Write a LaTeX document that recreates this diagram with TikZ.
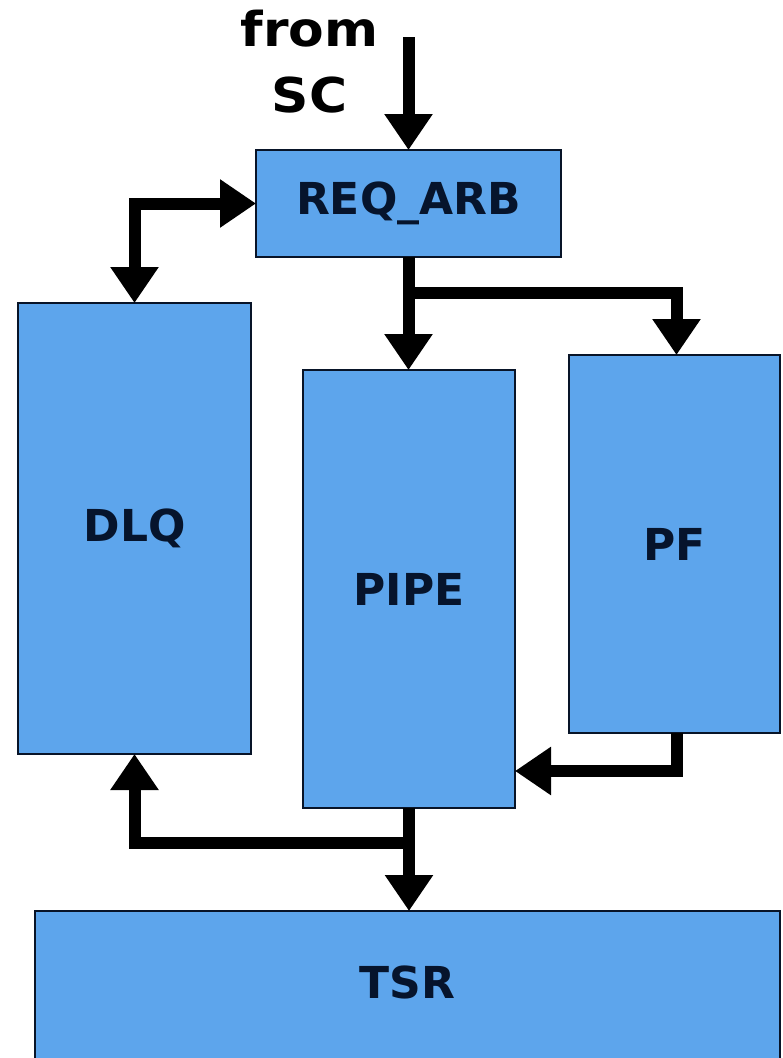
\documentclass[tikz,border=0pt]{standalone}
\usepackage{fontspec}
\setmainfont{DejaVu Sans}
\usetikzlibrary{arrows.meta,calc}
\definecolor{boxblue}{RGB}{93,165,236}
\definecolor{boxline}{RGB}{8,20,40}
\definecolor{boxtext}{RGB}{6,20,44}
\tikzset{
  blk/.style={draw=boxline,line width=2.5pt,fill=boxblue,inner sep=0pt,outer sep=0pt,
    text=boxtext,font=\fontsize{44}{52}\selectfont\bfseries},
  conn/.style={line width=12pt,line join=miter,-{Triangle[width=46pt,length=36pt]}},
  conn2/.style={line width=12pt,line join=miter,{Triangle[width=46pt,length=36pt]}-{Triangle[width=46pt,length=36pt]}},
  wire/.style={line width=12pt,line join=miter}
}
\begin{document}
\begin{tikzpicture}[x=1pt,y=1pt]
\useasboundingbox (0,0) rectangle (783,-1058);
\begin{scope}
\clip (0,0) rectangle (783,-1058);
\node[blk,minimum width=305pt,minimum height=107pt] (req) at (408.5,-203.5) {REQ\_ARB};
\node[blk,minimum width=233pt,minimum height=451pt] (dlq) at (134.5,-528.5) {DLQ};
\node[blk,minimum width=212pt,minimum height=438pt] (pipe) at (409,-589) {PIPE};
\node[blk,minimum width=211pt,minimum height=378pt] (pf) at (674.5,-544) {PF};
\node[blk,minimum width=745pt,minimum height=180pt] (tsr) at (407.5,-1001) {};
\node[text=boxtext,font=\fontsize{44}{52}\selectfont\bfseries] (tsrtext) at (407.5,-982) {TSR};
\end{scope}
\node[align=center,xscale=1.08,font=\fontsize{48}{66}\selectfont\bfseries] (from) at (309.5,-62) {from\\SC};
\coordinate (scin) at (408.5,-37);
\draw[conn] (scin) -- (req.north);
\draw[conn2] (req.west) -| (dlq.north);
\draw[conn] (req.south) -- (req.south |- pipe.north);
\coordinate (br1) at ($(req.south)+(0,-36)$);
\draw[conn] (br1) -| ([xshift=2pt]pf.north);
\draw[conn] ([xshift=2pt]pf.south) |- ([yshift=-182pt]pipe.east);
\draw[conn] (pipe.south) -- (pipe.south |- tsr.north);
\coordinate (br2) at ($(pipe.south)+(0,-35)$);
\draw[conn] (br2) -| (dlq.south);
\end{tikzpicture}
\end{document}
